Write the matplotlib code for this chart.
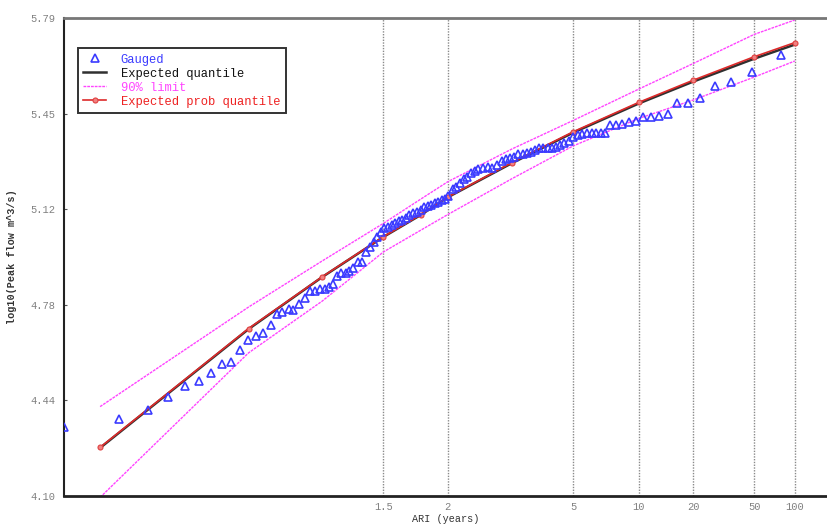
import math
from statistics import NormalDist
import numpy as np
import matplotlib
matplotlib.use("Agg")
import matplotlib.pyplot as plt

# ---------------- data ----------------
# gauged annual maxima: standard-normal plotting variate and log10 flow
gauged_z = [-2.572, -2.205, -2.009, -1.873, -1.761, -1.665, -1.586, -1.511, -1.450, -1.390,
            -1.336, -1.288, -1.238, -1.186, -1.144, -1.109, -1.066, -1.037, -0.995, -0.954,
            -0.923, -0.887, -0.856, -0.820, -0.796, -0.771, -0.742, -0.713, -0.684, -0.660,
            -0.633, -0.603, -0.576, -0.550, -0.524, -0.497, -0.474, -0.450, -0.427, -0.400,
            -0.375, -0.353, -0.326, -0.306, -0.282, -0.257, -0.235, -0.208, -0.181, -0.157,
            -0.132, -0.110, -0.087, -0.063, -0.040, -0.016, 0.004, 0.034, 0.058, 0.080,
            0.107, 0.131, 0.158, 0.183, 0.206, 0.239, 0.272, 0.295, 0.328, 0.362,
            0.391, 0.418, 0.446, 0.473, 0.503, 0.529, 0.558, 0.587, 0.614, 0.641,
            0.670, 0.697, 0.726, 0.753, 0.782, 0.811, 0.840, 0.870, 0.900, 0.934,
            0.964, 0.994, 1.024, 1.054, 1.088, 1.130, 1.170, 1.215, 1.260, 1.311,
            1.363, 1.418, 1.479, 1.539, 1.613, 1.688, 1.788, 1.899, 2.038, 2.234]
gauged_log = [4.344, 4.372, 4.404, 4.451, 4.489, 4.507, 4.536, 4.566, 4.574, 4.615,
              4.652, 4.664, 4.675, 4.705, 4.743, 4.749, 4.761, 4.758, 4.778, 4.801,
              4.824, 4.826, 4.832, 4.832, 4.838, 4.849, 4.878, 4.890, 4.887, 4.896,
              4.905, 4.926, 4.926, 4.964, 4.980, 4.998, 5.016, 5.033, 5.046, 5.050,
              5.058, 5.064, 5.073, 5.076, 5.082, 5.093, 5.102, 5.105, 5.111, 5.121,
              5.124, 5.128, 5.135, 5.139, 5.147, 5.151, 5.162, 5.184, 5.194, 5.208,
              5.221, 5.227, 5.242, 5.249, 5.256, 5.259, 5.264, 5.259, 5.269, 5.286,
              5.290, 5.294, 5.300, 5.308, 5.308, 5.312, 5.317, 5.323, 5.331, 5.331,
              5.329, 5.329, 5.335, 5.340, 5.347, 5.356, 5.369, 5.376, 5.380, 5.382,
              5.383, 5.384, 5.385, 5.385, 5.411, 5.412, 5.415, 5.421, 5.426, 5.440,
              5.440, 5.445, 5.449, 5.491, 5.491, 5.508, 5.550, 5.565, 5.600, 5.659]

quantile_ari = [1.01, 1.1, 1.25, 1.5, 1.75, 2, 3, 5, 10, 20, 50, 100]
expected_q   = [4.270, 4.690, 4.874, 5.016, 5.094, 5.156, 5.277, 5.385, 5.488, 5.565, 5.646, 5.696]
exp_prob_q   = [4.272, 4.692, 4.875, 5.017, 5.095, 5.157, 5.279, 5.388, 5.492, 5.570, 5.653, 5.703]
limit_upper  = [4.416, 4.768, 4.931, 5.064, 5.150, 5.211, 5.327, 5.428, 5.539, 5.629, 5.732, 5.783]
limit_lower  = [4.095, 4.606, 4.789, 4.963, 5.040, 5.095, 5.222, 5.338, 5.435, 5.500, 5.581, 5.638]

xtick_ari = [1.5, 2, 5, 10, 20, 50, 100]
xtick_labels = ["1.5", "2", "5", "10", "20", "50", "100"]
ytick_labels = ["4.10", "4.44", "4.78", "5.12", "5.45", "5.79"]
y_min, y_max = 4.10, 5.79

# ---------------- normal-probability ARI scale ----------------
_nd = NormalDist()
_inv_cdf = np.vectorize(_nd.inv_cdf, otypes=[float])
_erfc = np.vectorize(math.erfc, otypes=[float])

def ari_to_z(T):
    T = np.asarray(T, dtype=float)
    with np.errstate(divide="ignore", invalid="ignore"):
        p = 1.0 - 1.0 / T
    p = np.nan_to_num(p, nan=1e-9, posinf=1 - 1e-9, neginf=1e-9)
    p = np.clip(p, 1e-9, 1 - 1e-9)
    return _inv_cdf(p)

def z_to_ari(z):
    z = np.asarray(z, dtype=float)
    with np.errstate(divide="ignore", over="ignore"):
        return 2.0 / _erfc(z / math.sqrt(2.0))

gauged_ari = z_to_ari(gauged_z)

# ---------------- figure ----------------
mono = "Liberation Mono"
plt.rcParams["font.family"] = [mono, "DejaVu Sans Mono"]

W, H = 827, 524
fig = plt.figure(figsize=(W / 100, H / 100), dpi=100)
ax = fig.add_axes([64 / W, 28 / H, (W - 64) / W, 478 / H])
ax.set_xscale("function", functions=(ari_to_z, z_to_ari))
ax.set_xlim(float(z_to_ari(-2.572)), float(z_to_ari(2.542)))
ax.set_ylim(y_min, y_max)

for t in xtick_ari:
    ax.axvline(t, color="#8a8a8a", lw=1.0, ls=(0, (1, 1)), zorder=1)

ax.plot(quantile_ari, limit_upper, color="#ff44ff", lw=1.0, ls=(0, (2, 0.7)), zorder=2,
        label="90% limit")
ax.plot(quantile_ari, limit_lower, color="#ff44ff", lw=1.0, ls=(0, (2, 0.7)), zorder=2)
ax.plot(quantile_ari, expected_q, color="#303030", lw=1.8, zorder=3, label="Expected quantile")
ax.plot(quantile_ari, exp_prob_q, color="#dd2a2a", lw=1.2, marker="o", ms=3.6,
        mfc="#f08080", mec="#e04040", mew=0.8, zorder=4, label="Expected prob quantile")
ax.plot(gauged_ari, gauged_log, ls="none", marker="^", ms=5.4, mfc="none",
        mec="#3b3bff", mew=1.2, zorder=5, label="Gauged")

ax.set_xticks(xtick_ari)
ax.set_xticklabels(xtick_labels)
ax.xaxis.set_minor_locator(matplotlib.ticker.NullLocator())
ax.set_yticks(np.linspace(y_min, y_max, len(ytick_labels)))
ax.set_yticklabels(ytick_labels)
ax.tick_params(axis="x", length=0, pad=4, labelsize=7.5, labelcolor="#808080")
ax.tick_params(axis="y", length=2, direction="in", pad=6, labelsize=7.5,
               labelcolor="#808080", color="#555555")

ax.spines["right"].set_visible(False)
ax.spines["top"].set_color("#777777")
ax.spines["top"].set_linewidth(2)
ax.spines["left"].set_color("#222222")
ax.spines["left"].set_linewidth(1.5)
ax.spines["bottom"].set_color("#222222")
ax.spines["bottom"].set_linewidth(2)

ax.set_xlabel("ARI (years)", fontsize=7.3, color="#333333", labelpad=1.5)
ax.set_ylabel("log10(Peak flow m^3/s)", fontsize=7.3, color="#333333", fontweight="bold",
              labelpad=10)

handles, labels = ax.get_legend_handles_labels()
order = [labels.index(n) for n in ["Gauged", "Expected quantile", "90% limit",
                                   "Expected prob quantile"]]
leg = ax.legend([handles[i] for i in order], [labels[i] for i in order],
                loc="upper left", bbox_to_anchor=(0.018, 0.937), borderaxespad=0,
                fontsize=8.7, handlelength=1.9, handletextpad=1.2, labelspacing=0.17,
                borderpad=0.45, fancybox=False, framealpha=1, edgecolor="#333333")
leg.get_frame().set_linewidth(1.4)
for txt, col in zip(leg.get_texts(), ["#3b3bff", "#111111", "#ff44ff", "#ee2222"]):
    txt.set_color(col)

fig.savefig("out.png", dpi=100)
